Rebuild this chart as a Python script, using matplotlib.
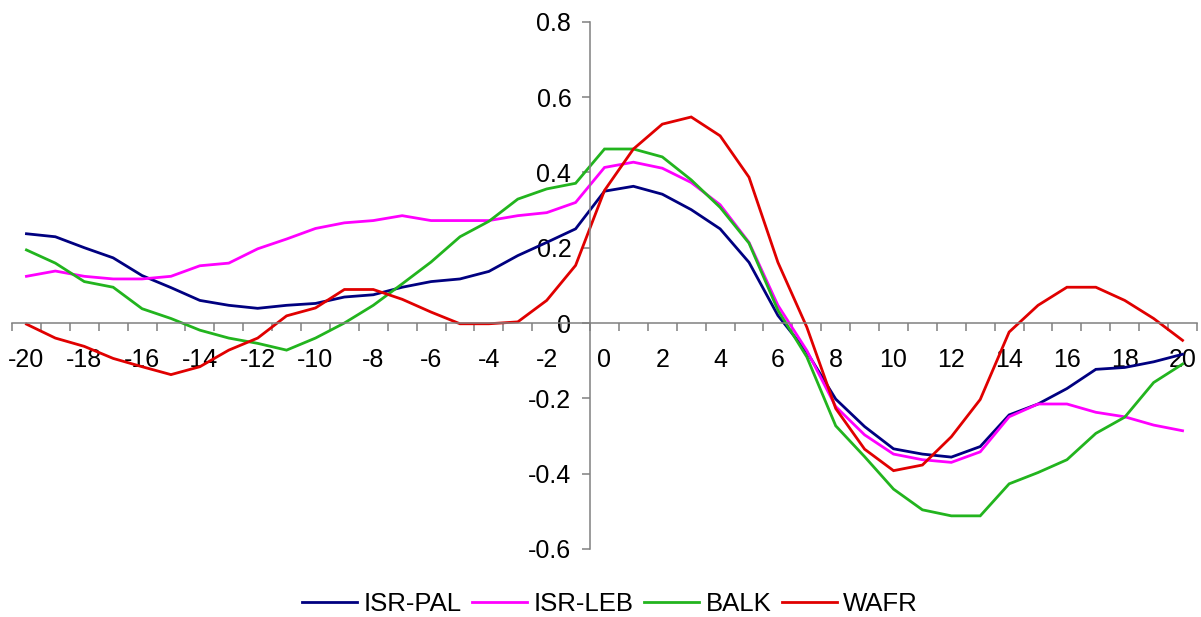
import matplotlib
matplotlib.use('Agg')
import matplotlib.pyplot as plt
from matplotlib.ticker import FixedLocator, FixedFormatter

plt.rcParams['font.family'] = ['Liberation Sans', 'DejaVu Sans']

lags = list(range(-20, 21))

isr_pal = [0.237, 0.229, 0.200, 0.173, 0.126, 0.094, 0.060, 0.047, 0.039, 0.047, 0.052,
           0.069, 0.075, 0.095, 0.110, 0.117, 0.137, 0.179, 0.214, 0.250,
           0.350, 0.363, 0.342, 0.301, 0.250, 0.161, 0.020,
           -0.077, -0.202, -0.275, -0.334, -0.348, -0.356, -0.328,
           -0.244, -0.215, -0.174, -0.123, -0.118, -0.103, -0.083]
isr_leb = [0.124, 0.138, 0.124, 0.117, 0.117, 0.124, 0.152, 0.159, 0.197, 0.223, 0.251,
           0.266, 0.272, 0.285, 0.272, 0.272, 0.272, 0.285, 0.293, 0.320,
           0.413, 0.427, 0.411, 0.373, 0.314, 0.214, 0.047,
           -0.073, -0.222, -0.297, -0.348, -0.363, -0.370, -0.342,
           -0.249, -0.215, -0.215, -0.237, -0.249, -0.271, -0.286]
balk = [0.194, 0.159, 0.110, 0.095, 0.038, 0.012, -0.019, -0.040, -0.054, -0.072, -0.040,
        0.000, 0.047, 0.104, 0.162, 0.229, 0.270, 0.329, 0.356, 0.371,
        0.462, 0.462, 0.441, 0.380, 0.307, 0.212, 0.034,
        -0.090, -0.273, -0.355, -0.441, -0.496, -0.512, -0.512,
        -0.427, -0.397, -0.363, -0.293, -0.250, -0.158, -0.109]
wafr = [-0.003, -0.040, -0.062, -0.094, -0.116, -0.137, -0.116, -0.072, -0.040, 0.019, 0.040,
        0.089, 0.089, 0.063, 0.029, -0.002, -0.002, 0.003, 0.060, 0.153,
        0.352, 0.462, 0.528, 0.547, 0.497, 0.387, 0.161,
        -0.011, -0.227, -0.335, -0.392, -0.377, -0.302, -0.203,
        -0.024, 0.047, 0.095, 0.095, 0.060, 0.012, -0.046]

series_names = ['ISR-PAL', 'ISR-LEB', 'BALK', 'WAFR']
colors = ['#000080', '#FF00FF', '#22B41E', '#E00000']

y_ticks = [-0.6, -0.4, -0.2, 0, 0.2, 0.4, 0.6, 0.8]
y_labels = ['-0.6', '-0.4', '-0.2', '0', '0.2', '0.4', '0.6', '0.8']
x_labels = [str(v) for v in lags[::2]]

fig = plt.figure(figsize=(12.01, 6.17), dpi=100)
ax = fig.add_axes([12 / 1201, 1 - 549 / 617, 1185 / 1201, 527.3 / 617])

for vals, name, c in zip([isr_pal, isr_leb, balk, wafr], series_names, colors):
    ax.plot(lags, vals, color=c, lw=2.0, label=name, solid_joinstyle='miter')

ax.set_xlim(-20.5, 20.5)
ax.set_ylim(-0.6, 0.8)

grey = '#808080'
for s in ['top', 'right']:
    ax.spines[s].set_visible(False)
ax.spines['left'].set_position(('data', -0.5))
ax.spines['bottom'].set_position(('data', 0))
for s in ['left', 'bottom']:
    ax.spines[s].set_color(grey)
    ax.spines[s].set_linewidth(1.1)

# category boundaries get tick marks, even categories get labels
ax.xaxis.set_major_locator(FixedLocator([v + 0.5 for v in range(-21, 21)]))
ax.xaxis.set_major_formatter(FixedFormatter([''] * 42))
ax.xaxis.set_minor_locator(FixedLocator(lags[::2]))
ax.xaxis.set_minor_formatter(FixedFormatter(x_labels))
ax.tick_params(axis='x', which='major', direction='out', length=5.5, width=1.1, color=grey)
ax.tick_params(axis='x', which='minor', length=0, pad=18, labelsize=18)

ax.set_yticks(y_ticks)
ax.set_yticklabels(y_labels)
ax.tick_params(axis='y', direction='out', length=5.5, width=1.1, color=grey, pad=8, labelsize=18)

fig.legend(loc='center', bbox_to_anchor=(610 / 1201, 1 - 604 / 617), ncol=4, frameon=False,
           fontsize=18.5, handlelength=2.15, handletextpad=0.25, columnspacing=0.4)

fig.savefig('out.png', dpi=100)
